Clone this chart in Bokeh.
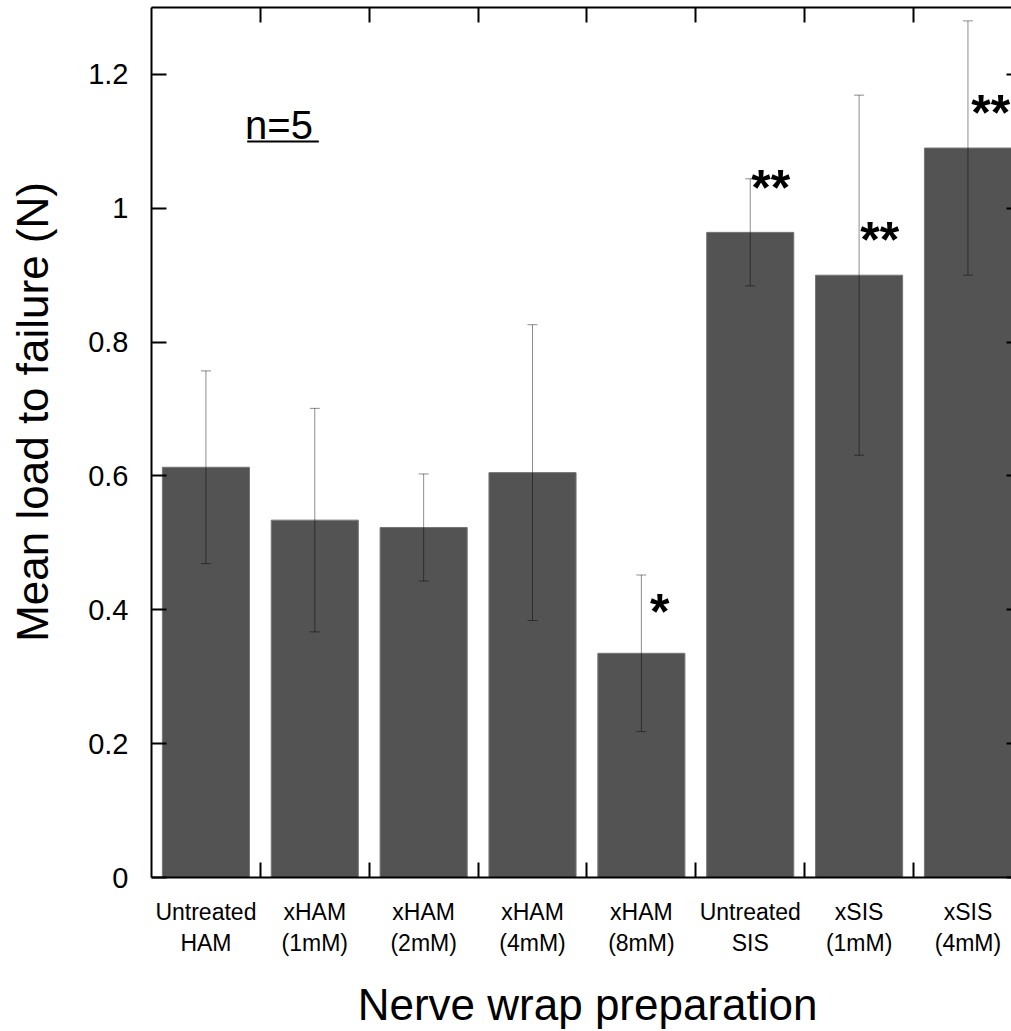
from bokeh.plotting import figure
from bokeh.models import (FixedTicker, Range1d, LinearAxis, Whisker, ColumnDataSource,
                          TeeHead, BoxAnnotation)
from bokeh.core.properties import value
from bokeh.embed import file_html
from bokeh.resources import INLINE

# ---- data ----
categories = ["Untreated\nHAM", "xHAM\n(1mM)", "xHAM\n(2mM)", "xHAM\n(4mM)",
              "xHAM\n(8mM)", "Untreated\nSIS", "xSIS\n(1mM)", "xSIS\n(4mM)"]
means = [0.613, 0.534, 0.523, 0.605, 0.335, 0.964, 0.900, 1.090]
errors = [0.144, 0.167, 0.080, 0.221, 0.117, 0.080, 0.269, 0.190]
sig_marks = ["*", "**", "**", "**"]
sig_x = [5.08, 6.01, 7.01, 8.03]
sig_y = [0.406, 1.040, 0.961, 1.151]
y_ticks = [0, 0.2, 0.4, 0.6, 0.8, 1, 1.2]
y_tick_labels = ["0", "0.2", "0.4", "0.6", "0.8", "1", "1.2"]
sample_note = "n=5"
x_title = "Nerve wrap preparation"
y_title = "Mean load to failure (N)"

FONT = "Liberation Sans"
NB = "\u00a0"

xs = list(range(1, len(categories) + 1))
src = ColumnDataSource(dict(
    x=xs, top=means,
    upper=[m + e for m, e in zip(means, errors)],
    lower=[m - e for m, e in zip(means, errors)],
))

p = figure(width=1011, height=1031,
           x_range=Range1d(0.5, 8.40), y_range=Range1d(0, 1.3),
           output_backend="svg", toolbar_location=None,
           min_border_left=151, min_border_right=0,
           min_border_top=7, min_border_bottom=154)
p.outline_line_color = None
p.grid.visible = False
p.background_fill_color = "white"
p.border_fill_color = "white"

# bars
p.vbar(x="x", top="top", width=0.8, bottom=0, source=src,
       fill_color="#535353", line_color="#767676", line_width=1)

# error bars
wh = Whisker(source=src, base="x", upper="upper", lower="lower",
             dimension="height", line_color="black", line_alpha=0.45, line_width=1,
             upper_head=TeeHead(size=10, line_color="black", line_alpha=0.45, line_width=1),
             lower_head=TeeHead(size=10, line_color="black", line_alpha=0.45, line_width=1))
wh.level = "overlay"
p.add_layout(wh)

# significance marks
p.text(x=sig_x, y=sig_y, text=sig_marks, text_font=value(FONT),
       text_font_style="bold", text_font_size="50px", text_align="left",
       text_baseline="middle", text_color="black", y_offset=6)

# n=5 note with underline
p.text(x=[1.36], y=[1.124], text=[sample_note], text_font=value(FONT),
       text_font_size="40px", text_color="black",
       text_baseline="middle", text_align="left")
p.add_layout(BoxAnnotation(left=1.379, right=2.037, bottom=1.0984, top=1.1014,
                           fill_color="black", fill_alpha=1, line_color=None))

xticker = FixedTicker(ticks=xs, minor_ticks=[i + 0.5 for i in xs[:-1]])
yticker = FixedTicker(ticks=y_ticks, minor_ticks=[])

# bottom axis
xa = p.xaxis[0]
xa.ticker = xticker
xa.major_label_overrides = {x: c for x, c in zip(xs, categories)}
xa.major_tick_in = 0
xa.major_tick_out = 0
xa.minor_tick_in = 15
xa.minor_tick_out = 0
xa.minor_tick_line_width = 2
xa.minor_tick_line_color = "black"
xa.axis_line_width = 2
xa.axis_line_color = "black"
xa.major_label_text_font = FONT
xa.major_label_text_font_size = "23px"
xa.major_label_text_color = "black"
xa.major_label_standoff = 21
xa.axis_label = NB + x_title
xa.axis_label_text_font = FONT
xa.axis_label_text_font_size = "44px"
xa.axis_label_text_font_style = "normal"
xa.axis_label_text_color = "black"
xa.axis_label_standoff = 21

# left axis
ya = p.yaxis[0]
ya.ticker = yticker
ya.major_label_overrides = {t: l for t, l in zip(y_ticks, y_tick_labels)}
ya.major_tick_in = 15
ya.major_tick_out = 0
ya.major_tick_line_width = 2
ya.major_tick_line_color = "black"
ya.axis_line_width = 2
ya.axis_line_color = "black"
ya.major_label_text_font = FONT
ya.major_label_text_font_size = "29px"
ya.major_label_text_color = "black"
ya.major_label_standoff = 23
ya.axis_label = NB * 5 + y_title
ya.axis_label_text_font = FONT
ya.axis_label_text_font_size = "44px"
ya.axis_label_text_font_style = "normal"
ya.axis_label_text_color = "black"
ya.axis_label_standoff = 28

# top axis (ticks only)
ta = LinearAxis(ticker=xticker, major_tick_in=0, major_tick_out=0,
                minor_tick_in=15, minor_tick_out=0, minor_tick_line_width=2,
                minor_tick_line_color="black", axis_line_width=2, axis_line_color="black",
                major_label_text_font_size="0px", major_label_text_color=None,
                major_label_standoff=0)
p.add_layout(ta, "above")

# right axis (ticks only, mostly cut off)
ra = LinearAxis(ticker=yticker, major_tick_in=5, major_tick_out=0,
                major_tick_line_width=2, major_tick_line_color="black",
                axis_line_color=None,
                major_label_text_font_size="0px", major_label_text_color=None,
                major_label_standoff=0)
p.add_layout(ra, "right")

open("out.html", "w").write(file_html(p, INLINE))
